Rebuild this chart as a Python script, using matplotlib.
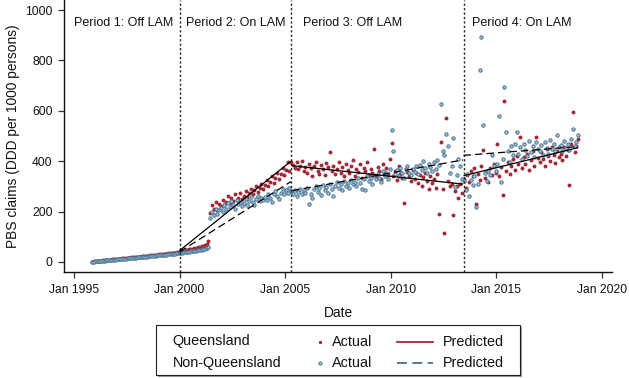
import matplotlib
matplotlib.use('Agg')
import matplotlib.pyplot as plt
import matplotlib.dates as mdates
import pandas as pd
from matplotlib.patches import Rectangle
from matplotlib.lines import Line2D

plt.rcParams['font.family'] = ['Liberation Sans', 'DejaVu Sans']

# ---------------- data ----------------
first_month = '1995-11-01'
last_month = '2018-11-01'

qld_actual = [
    1, 2,                                                        # 1995 Nov-Dec
    3, 4, 5, 5, 6, 7, 8, 8, 9, 10, 11, 11,                       # 1996
    12, 13, 13, 14, 15, 16, 16, 17, 18, 19, 19, 20,              # 1997
    21, 21, 22, 23, 24, 24, 25, 26, 27, 27, 28, 29,              # 1998
    30, 30, 31, 32, 33, 34, 35, 35, 36, 37, 38, 40,              # 1999
    42, 44, 45, 48, 47, 50, 52, 53, 55, 54, 58, 60,              # 2000
    62, 63, 66, 70, 85, 195, 228, 210, 236, 205, 230, 222,       # 2001
    245, 225, 238, 260, 232, 252, 240, 268, 247, 255, 272, 250,  # 2002
    262, 280, 258, 275, 290, 268, 285, 300, 278, 295, 310, 288,  # 2003
    305, 325, 300, 318, 340, 315, 335, 355, 330, 348, 372, 345,  # 2004
    365, 395, 360, 398, 385, 372, 395, 368, 380, 402, 360, 378,  # 2005
    355, 390, 372, 340, 380, 395, 362, 350, 385, 370, 345, 392,  # 2006
    375, 435, 360, 382, 348, 370, 395, 355, 378, 340, 388, 365,  # 2007
    352, 380, 405, 342, 370, 358, 390, 335, 372, 360, 398, 345,  # 2008
    368, 352, 450, 340, 375, 362, 330, 390, 355, 372, 345, 410,  # 2009
    473, 340, 362, 325, 380, 350, 335, 233, 370, 358, 340, 320,  # 2010
    365, 330, 352, 312, 345, 300, 338, 355, 322, 290, 340, 315,  # 2011
    330, 295, 348, 190, 478, 290, 116, 570, 320, 300, 310, 187,  # 2012
    280, 300, 255, 310, 275, 330, 295, 345, 318, 360, 340, 372,  # 2013
    230, 350, 325, 380, 444, 335, 360, 318, 372, 345, 390, 352,  # 2014
    468, 340, 375, 267, 640, 360, 395, 348, 382, 410, 365, 420,  # 2015
    390, 497, 372, 415, 388, 430, 365, 405, 440, 380, 497, 412,  # 2016
    395, 435, 410, 380, 448, 420, 400, 455, 425, 392, 440, 418,  # 2017
    430, 405, 455, 420, 445, 304, 470, 594, 435, 460, 487,       # 2018 Jan-Nov
]

nonqld_actual = [
    0, 1,                                                        # 1995 Nov-Dec
    2, 3, 3, 4, 5, 5, 6, 7, 7, 8, 9, 9,                          # 1996
    10, 11, 11, 12, 13, 13, 14, 15, 15, 16, 17, 17,              # 1997
    18, 19, 19, 20, 21, 21, 22, 23, 23, 24, 25, 26,              # 1998
    26, 27, 28, 28, 29, 30, 31, 31, 32, 33, 34, 35,              # 1999
    36, 37, 38, 39, 40, 41, 42, 43, 44, 45, 46, 48,              # 2000
    49, 50, 52, 55, 58, 175, 200, 185, 210, 192, 205, 215,       # 2001
    200, 225, 210, 232, 218, 240, 228, 212, 245, 230, 238, 222,  # 2002
    235, 250, 228, 242, 258, 236, 225, 248, 262, 240, 255, 246,  # 2003
    258, 245, 270, 255, 238, 268, 280, 262, 250, 275, 290, 268,  # 2004
    285, 275, 295, 280, 270, 285, 262, 278, 290, 268, 282, 275,  # 2005
    292, 230, 270, 255, 288, 300, 278, 295, 265, 305, 285, 298,  # 2006
    275, 310, 290, 260, 302, 318, 292, 308, 285, 322, 300, 312,  # 2007
    295, 325, 308, 318, 300, 335, 315, 290, 328, 287, 340, 320,  # 2008
    332, 310, 345, 328, 350, 335, 318, 360, 342, 355, 330, 368,  # 2009
    524, 442, 350, 365, 340, 372, 355, 335, 368, 380, 352, 345,  # 2010
    370, 358, 382, 348, 385, 365, 401, 372, 355, 390, 378, 360,  # 2011
    395, 370, 405, 385, 627, 440, 425, 508, 460, 353, 380, 493,  # 2012
    299, 345, 410, 380, 330, 320, 286, 350, 262, 325, 305, 340,  # 2013
    219, 310, 762, 894, 544, 352, 320, 362, 345, 425, 380, 360,  # 2014
    390, 581, 318, 410, 693, 517, 440, 395, 460, 425, 470, 517,  # 2015
    430, 455, 410, 470, 445, 420, 480, 438, 460, 415, 475, 450,  # 2016
    440, 465, 425, 478, 452, 430, 485, 448, 470, 440, 505, 458,  # 2017
    465, 440, 480, 452, 470, 445, 490, 526, 460, 475, 504,       # 2018 Jan-Nov
]

# predicted (segmented regression) per period
pred_starts = ['1995-11-15', '2000-01-01', '2005-05-01', '2013-06-10']
pred_ends = ['1999-12-15', '2005-04-10', '2013-06-01', '2018-11-15']
qld_pred_start = [1, 45, 382, 342]
qld_pred_end = [40, 400, 309, 454]
nonqld_pred_start = [0, 40, 283, 423]
nonqld_pred_end = [35, 319, 405, 458]

period_breaks = ['2000-01-01', '2005-04-15', '2013-06-10']
period_labels = ['Period 1: Off LAM', 'Period 2: On LAM', 'Period 3: Off LAM', 'Period 4: On LAM']
period_label_x = ['1995-01-01', '2000-04-20', '2005-10-30', '2013-10-30']

y_ticks = [0, 200, 400, 600, 800, 1000]
x_tick_years = [1995, 2000, 2005, 2010, 2015, 2020]

# ---------------- styling ----------------
RED = '#9e2b37'
BLUE_EDGE = '#416f92'
BLUE_FACE = '#a3bfd3'

W, H = 629, 378
fig = plt.figure(figsize=(W / 100, H / 100), dpi=100)
ax = fig.add_axes([64 / W, 1 - 272 / H, (612 - 64) / W, 272 / H])

dates = pd.date_range(first_month, last_month, freq='MS') + pd.Timedelta(days=14)

ax.scatter(dates, qld_actual, s=8, color=RED, linewidths=0, zorder=3)
ax.scatter(dates, nonqld_actual, s=6, facecolor=BLUE_FACE, edgecolor=BLUE_EDGE,
           linewidths=0.65, zorder=4)

for i in range(len(pred_starts)):
    xs = [pd.Timestamp(pred_starts[i]), pd.Timestamp(pred_ends[i])]
    z = 2 if i == 0 else 6
    ax.plot(xs, [qld_pred_start[i], qld_pred_end[i]], color='black', lw=0.9,
            solid_capstyle='butt', zorder=z)
    ax.plot(xs, [nonqld_pred_start[i], nonqld_pred_end[i]], color='black', lw=0.9,
            linestyle=(0, (6, 3.2)), zorder=z)

for d in period_breaks:
    ax.axvline(pd.Timestamp(d), color='#222222', lw=1.0, linestyle=(0, (1.6, 1.6)), zorder=5)

for lab, d in zip(period_labels, period_label_x):
    ax.text(pd.Timestamp(d), 950, lab, ha='left', va='center', fontsize=9, color='#111111')

ax.set_xlim(pd.Timestamp('1994-07-13'), pd.Timestamp('2020-06-20'))
ax.set_ylim(-40, 1040)
ax.set_yticks(y_ticks)
ax.set_xticks([pd.Timestamp(f'{y}-01-01') for y in x_tick_years])
ax.xaxis.set_major_formatter(mdates.DateFormatter('%b %Y'))

for s in ['top', 'right']:
    ax.spines[s].set_visible(False)
for s in ['left', 'bottom']:
    ax.spines[s].set_linewidth(1.0)
    ax.spines[s].set_color('#111111')
ax.tick_params(axis='both', direction='out', length=4.2, width=0.9, labelsize=8.7,
               color='#333333', labelcolor='#111111')
ax.tick_params(axis='x', pad=4.5)
ax.tick_params(axis='y', pad=4.0)

def fx(px):
    return px / W

def fy(py):
    return 1 - py / H

fig.text(fx(13.5), fy(136), 'PBS claims (DDD per 1000 persons)', rotation=90,
         ha='center', va='center', fontsize=9.9, color='#111111')
fig.text(fx(338), fy(313), 'Date', ha='center', va='center', fontsize=9.9, color='#111111')

# legend box (manual, with drop shadow)
fig.add_artist(Rectangle((fx(158), fy(377)), (520 - 156) / W, (377 - 327) / H,
                         transform=fig.transFigure, facecolor='#9a9a9a', edgecolor='none', zorder=1))
fig.add_artist(Rectangle((fx(156), fy(375)), (520 - 156) / W, (375 - 325) / H,
                         transform=fig.transFigure, facecolor='white', edgecolor='#222222',
                         lw=0.8, zorder=2))

rows_y = [341.5, 363]
group_names = ['Queensland', 'Non-Queensland']
for k, ry in enumerate(rows_y):
    fig.text(fx(172.5), fy(ry), group_names[k], ha='left', va='center', fontsize=10.4,
             color='#111111', zorder=3)
    fig.text(fx(331.5), fy(ry), 'Actual', ha='left', va='center', fontsize=10.4,
             color='#111111', zorder=3)
    fig.text(fx(443), fy(ry), 'Predicted', ha='left', va='center', fontsize=10.4,
             color='#111111', zorder=3)

fig.add_artist(Line2D([fx(320)], [fy(rows_y[0])], transform=fig.transFigure, marker='o',
                      markersize=2.4, color=RED, markeredgewidth=0, linestyle='none', zorder=3))
fig.add_artist(Line2D([fx(320)], [fy(rows_y[1])], transform=fig.transFigure, marker='o',
                      markersize=2.4, markerfacecolor=BLUE_FACE, markeredgecolor=BLUE_EDGE,
                      markeredgewidth=0.6, linestyle='none', zorder=3))
fig.add_artist(Line2D([fx(396.5), fx(433)], [fy(rows_y[0])] * 2, transform=fig.transFigure,
                      color=RED, lw=1.3, zorder=3))
fig.add_artist(Line2D([fx(396.5), fx(433)], [fy(rows_y[1])] * 2, transform=fig.transFigure,
                      color=BLUE_EDGE, lw=1.3, linestyle=(0, (5.5, 3)), zorder=3))

fig.savefig('out.png', dpi=100)
